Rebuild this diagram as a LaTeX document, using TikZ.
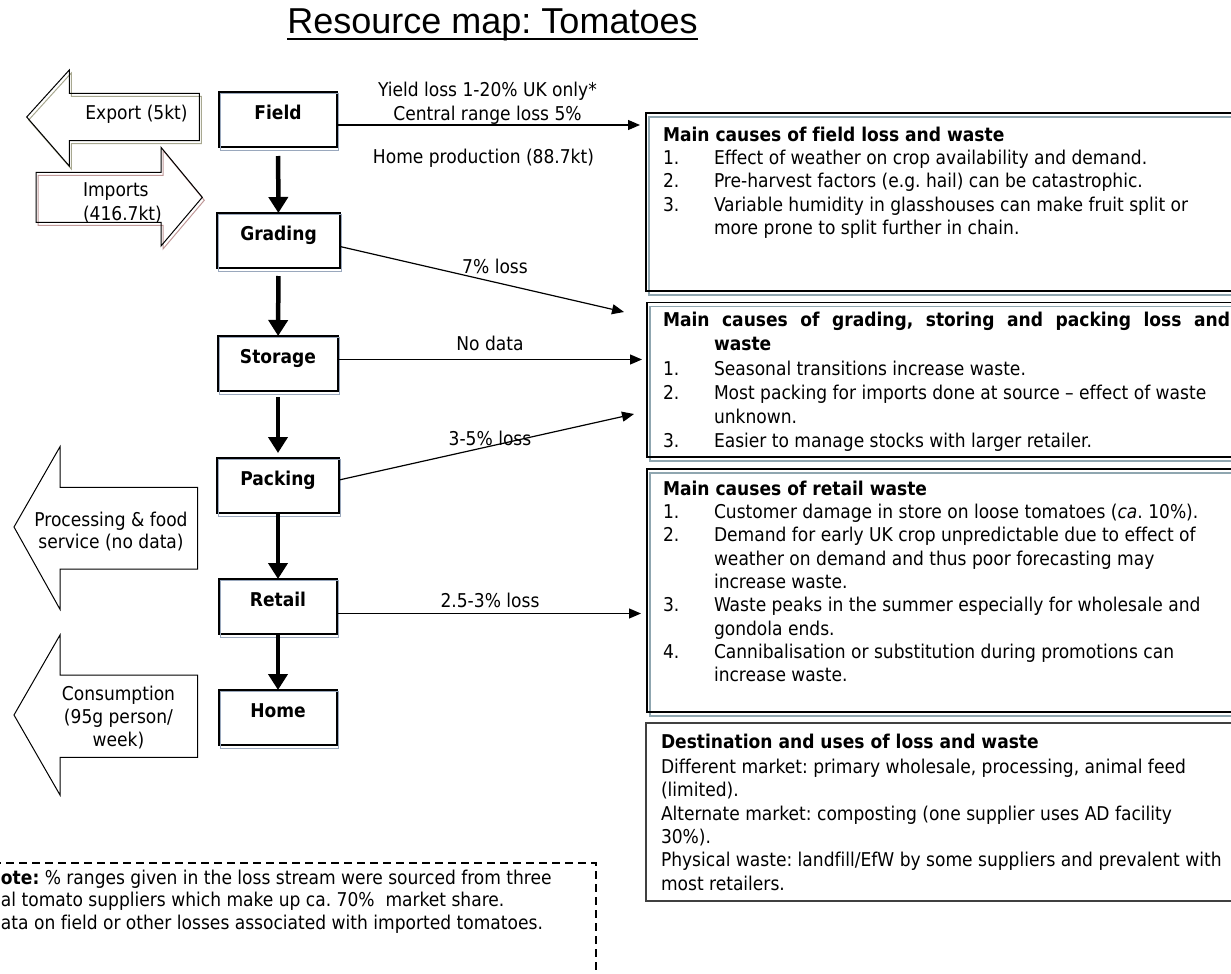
\documentclass[tikz,border=0pt]{standalone}
\usepackage{fontspec}
\setmainfont[Ligatures=NoCommon]{DejaVu Sans Condensed}
\newfontfamily\titlefont{Liberation Sans}
\usetikzlibrary{arrows.meta,calc}

\definecolor{stageshade}{HTML}{9AA8BD}
\definecolor{panelshade}{HTML}{8FA6B0}
\definecolor{exportshade}{HTML}{A8A890}
\definecolor{importshade}{HTML}{C09898}
\definecolor{panelgrey}{HTML}{404040}

% number column of the cause lists
\newcommand\numlabel[1]{\makebox[51pt][l]{#1}}
\newcommand\numgap{\hspace*{51pt}}
% one line of text, placed by its baseline
\newcommand\textrow[4]{\node[anchor=base west] (#1) at (#2,#3) {#4};}

\begin{document}
\frenchspacing
\begin{tikzpicture}[x=1pt,y=-1pt,
  every node/.style={inner sep=0pt, outer sep=0pt, font=\fontsize{19}{23.5}\selectfont},
  stagebox/.style={draw, line width=1.2pt, text height=27pt, text depth=28pt,
    minimum width=#1, align=center, font=\fontsize{19}{23.5}\selectfont\bfseries},
  stagedrop/.style={draw=stageshade, line width=1pt},
  flowarrow/.style={line width=4.5pt, -{Triangle[width=19pt,length=16pt]}},
  lossarrow/.style={line width=1.2pt, -{Triangle[width=10pt,length=12pt]}},
  blockline/.style={line width=1pt, line join=miter},
  labeltext/.style={anchor=base},
]
\useasboundingbox (0,0) rectangle (1231,974);
\clip (0,0) rectangle (1231,974);

% ---- title ----
\node[anchor=base, font=\titlefont\fontsize{36}{40}\selectfont] (title) at (492.5,33.3) {Resource map: Tomatoes};
\draw[line width=2pt] ($(title.base west)+(0,6)$) -- ($(title.base east)+(0,6)$);

% ---- supply chain stages ----
\node[stagebox=118pt, anchor=north] (field)   at (278,92)  {Field};
\node[stagebox=123pt, anchor=north] (grading) at (278.5,213) {Grading};
\node[stagebox=120pt, anchor=north] (storage) at (278,336) {Storage};
\node[stagebox=122pt, anchor=north] (packing) at (278,458) {Packing};
\node[stagebox=118pt, anchor=north] (retail)  at (278,579) {Retail};
\node[stagebox=118pt, anchor=north] (home)    at (278,690) {Home};
\foreach \n in {field,grading,storage,packing,retail,home}
  \draw[stagedrop] ($(\n.north west)+(1.5,1.5)$) rectangle ($(\n.south east)+(1.5,3)$);

\draw[flowarrow, shorten <=9pt]  (field) -- (grading);
\draw[flowarrow, shorten <=8pt]  (grading) -- (storage);
\draw[flowarrow, shorten <=6pt, shorten >=5pt] (storage) -- (packing);
\draw[flowarrow] (packing) -- (retail);
\draw[flowarrow] (retail) -- (home);

% ---- loss streams ----
\coordinate (fieldtip)   at (640,125);
\coordinate (gradingtip) at (624,312);
\coordinate (storagetip) at (642,359.5);
\coordinate (packingtip) at (634,414);
\coordinate (retailtip)  at (641,613.5);
\draw[lossarrow] ($(field.east)+(0,5.5)$) -- (fieldtip);
\draw[lossarrow] ($(grading.east)+(0,6)$) -- (gradingtip);
\draw[lossarrow] ($(storage.east)+(0,-4)$) -- (storagetip);
\draw[lossarrow] ($(packing.east)+(0,-5.5)$) -- (packingtip);
\draw[lossarrow] ($(retail.east)+(0,7)$) -- (retailtip);

\node[labeltext] (yield)   at (487.5,96.7) {Yield loss 1-20\% UK only*};
\node[labeltext] (central) at (487.5,120)  {Central range loss 5\%};
\node[labeltext] (homeprod) at (483.5,163.3) {Home production (88.7kt)};
\node[labeltext] (gradloss) at (495,273.3) {7\% loss};
\node[labeltext] (storloss) at (490,350)   {No data};
\node[labeltext] (packloss) at (490,445)   {3-5\% loss};
\node[labeltext] (retloss)  at (490,607)   {2.5-3\% loss};

% ---- block arrows on the left ----
\begin{scope}[shift={(2,3)}]
  \draw[blockline, draw=exportshade] (199.3,93.3) -- (69.3,93.3) -- (69.3,70) -- (26.7,117) -- (69.3,166) -- (69.3,140.7) -- (199.3,140.7) -- cycle;
  \draw[blockline, draw=importshade] (36,172.3) -- (161,172.3) -- (161,147.3) -- (202.3,197.3) -- (161,246) -- (161,222.3) -- (36,222.3) -- cycle;
\end{scope}
\draw[blockline] (199.3,93.3) -- (69.3,93.3) -- (69.3,70) -- (26.7,117) -- (69.3,166) -- (69.3,140.7) -- (199.3,140.7) -- cycle;
\draw[blockline] (36,172.3) -- (161,172.3) -- (161,147.3) -- (202.3,197.3) -- (161,246) -- (161,222.3) -- (36,222.3) -- cycle;
\draw[blockline] (197.7,487.3) -- (60,487.3) -- (60,446.7) -- (14,527) -- (60,609.3) -- (60,569) -- (197.7,569) -- cycle;
\draw[blockline] (197.7,675) -- (60,675) -- (60,635) -- (14,715) -- (60,795) -- (60,757.3) -- (197.7,757.3) -- cycle;

\node[labeltext] (export) at (136.5,119.3) {Export (5kt)};
\node[anchor=base west] (imports1) at (83,196.7) {Imports};
\node[anchor=base west] (imports2) at (83,220.7) {(416.7kt)};
\node[labeltext] (proc1) at (111,526)   {Processing \& food};
\node[labeltext] (proc2) at (111,548.3) {service (no data)};
\node[labeltext] (cons1) at (118.5,700)   {Consumption};
\node[labeltext] (cons2) at (118.5,723.3) {(95g person/};
\node[labeltext] (cons3) at (118.5,746)   {week)};

% ---- panels on the right ----
\draw[panelshade, line width=1.2pt] (649,117) rectangle (1245,295);
\draw[line width=2pt] (646,113) rectangle (1245,291);
\draw[panelshade, line width=1.2pt] (650,306.5) rectangle (1245,461);
\draw[line width=1.2pt] (647,302.5) rectangle (1245,457);
\draw[panelshade, line width=1.2pt] (650,473) rectangle (1245,716);
\draw[line width=1.2pt] (647,469) rectangle (1245,712);
\draw[panelgrey, line width=1.2pt] (646,723) rectangle (1245,901);

\textrow{fa}{663}{141}{\bfseries Main causes of field loss and waste}
\textrow{fb}{663}{164.3}{\numlabel{1.}Effect of weather on crop availability and demand.}
\textrow{fc}{663}{187.7}{\numlabel{2.}Pre-harvest factors (e.g. hail) can be catastrophic.}
\textrow{fd}{663}{211}{\numlabel{3.}Variable humidity in glasshouses can make fruit split or}
\textrow{fe}{663}{234.3}{\numgap more prone to split further in chain.}

\textrow{ga}{663}{326}{\bfseries\makebox[567pt][s]{Main causes of grading, storing and packing loss and}}
\textrow{gb}{663}{350}{\bfseries\numgap waste}
\textrow{gc}{663}{375}{\numlabel{1.}Seasonal transitions increase waste.}
\textrow{gd}{663}{399}{\numlabel{2.}Most packing for imports done at source -- effect of waste}
\textrow{ge}{663}{423}{\numgap unknown.}
\textrow{gf}{663}{447}{\numlabel{3.}Easier to manage stocks with larger retailer.}

\textrow{ra}{663}{495}{\bfseries Main causes of retail waste}
\textrow{rb}{663}{518.3}{\numlabel{1.}Customer damage in store on loose tomatoes (\textit{ca}. 10\%).}
\textrow{rc}{663}{541.7}{\numlabel{2.}Demand for early UK crop unpredictable due to effect of}
\textrow{rd}{663}{565}{\numgap weather on demand and thus poor forecasting may}
\textrow{re}{663}{588.3}{\numgap increase waste.}
\textrow{rf}{663}{611.7}{\numlabel{3.}Waste peaks in the summer especially for wholesale and}
\textrow{rg}{663}{635}{\numgap gondola ends.}
\textrow{rh}{663}{658.3}{\numlabel{4.}Cannibalisation or substitution during promotions can}
\textrow{ri}{663}{681.7}{\numgap increase waste.}

\textrow{da}{661}{748.3}{\bfseries Destination and uses of loss and waste}
\textrow{db}{661}{773.3}{Different market: primary wholesale, processing, animal feed}
\textrow{dc}{661}{796.7}{(limited).}
\textrow{dd}{661}{820}{Alternate market: composting (one supplier uses AD facility}
\textrow{de}{661}{843.3}{30\%).}
\textrow{df}{661}{866.7}{Physical waste: landfill/EfW by some suppliers and prevalent with}
\textrow{dg}{661}{890}{most retailers.}

% ---- note ----
\draw[line width=1.2pt, dash pattern=on 8pt off 5pt] (-20,863) -- (596,863) -- (596,990);
\textrow{na}{1}{884}{\textbf{ote:} \% ranges given in the loss stream were sourced from three}
\textrow{nb}{1}{906.7}{al tomato suppliers which make up ca. 70\%\ \ market share.}
\textrow{nc}{1}{929}{ata on field or other losses associated with imported tomatoes.}
\end{tikzpicture}
\end{document}
